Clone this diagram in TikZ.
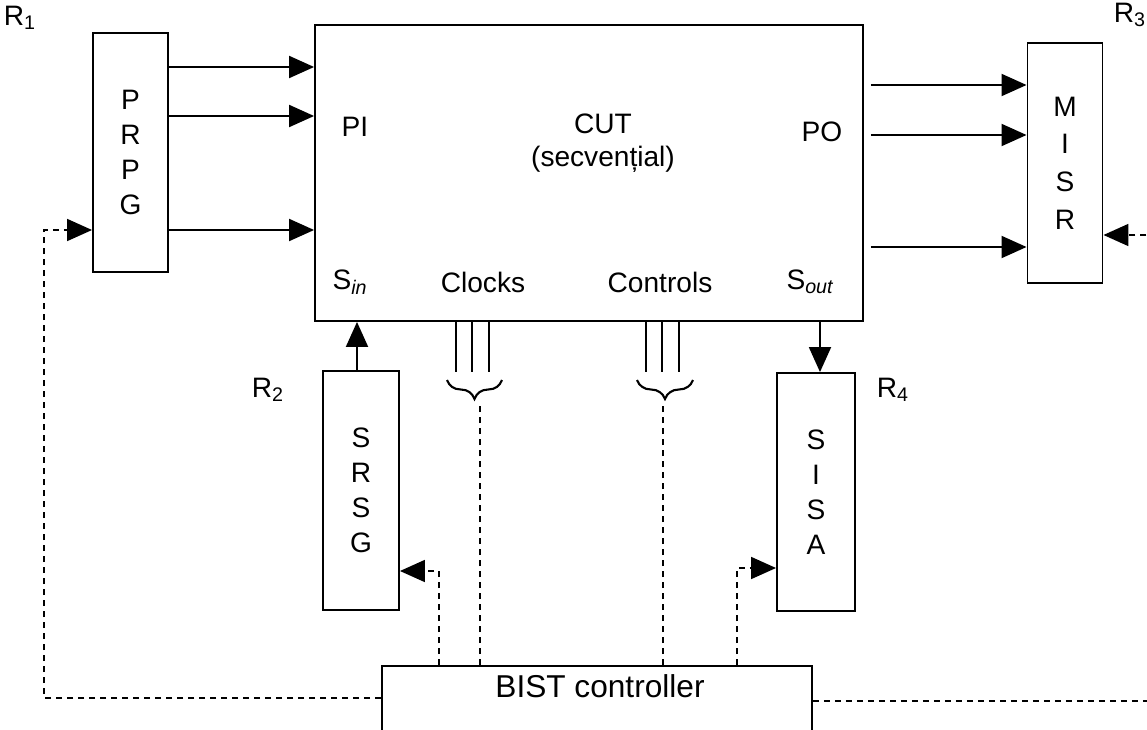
\documentclass[tikz,border=0pt]{standalone}
\usepackage{fontspec}
\setmainfont{Liberation Sans}
\usetikzlibrary{arrows.meta,decorations.pathreplacing}
\tikzset{
  blk/.style={draw, line width=1.1pt, minimum width=1.5cm, inner sep=0pt, align=center},
  sig/.style={-{Triangle[length=0.5cm,width=0.44cm]}, line width=1.1pt},
  dsh/.style={line width=1pt, dash pattern=on 0.12cm off 0.1cm},
  ctl/.style={sig, dsh},
  brc/.style={line width=1.2pt, decorate, decoration={brace, mirror, amplitude=0.38cm}}
}
\begin{document}
\begin{tikzpicture}[x=0.02cm, y=-0.02cm, every node/.style={font=\fontsize{16}{20}\selectfont}]
  \useasboundingbox (0,0) rectangle (1147,730);
  \clip (0,0) rectangle (1147,730);

  % blocks
  \node[blk, minimum height=4.78cm] (prpg) at (130.5,152.5) {P\\R\\P\\G};
  \node[blk, minimum width=10.96cm, minimum height=5.92cm] (cut) at (589,173) {};
  \node[blk, minimum height=4.8cm, font=\fontsize{16}{21.5}\selectfont] (misr) at (1065,163) {M\\I\\S\\R};
  \node[blk, minimum width=1.52cm, minimum height=4.78cm] (srsg) at (361,490.5) {S\\R\\S\\G};
  \node[blk, minimum width=1.56cm, minimum height=4.76cm] (sisa) at (816,492) {S\\I\\S\\A};
  \node[blk, minimum width=8.6cm, minimum height=2cm, anchor=north] (bist) at (597,665) {};
  \node[font=\fontsize{18}{20}\selectfont] (bistlbl) at (600,686) {BIST controller};

  % labels
  \node[align=center, font=\fontsize{16}{19}\selectfont] (cutlbl) at (603,143) {CUT\\(secvențial)};
  \node (pi) at (355,127) {PI};
  \node (po) at (822,132) {PO};
  \node (sin) at (350,282) {S\textsubscript{\itshape in}};
  \node (clk) at (483,282) {Clocks};
  \node (ctrl) at (660,282) {Controls};
  \node (sout) at (810,282) {S\textsubscript{\itshape out}};
  \node (r1) at (20,18) {R\textsubscript{1}};
  \node (r2) at (268,390) {R\textsubscript{2}};
  \node (r3) at (1130,15) {R\textsubscript{3}};
  \node (r4) at (893,390) {R\textsubscript{4}};

  % data paths
  \foreach \y in {67,116,230}
    \draw[sig] (prpg.east |- 0,\y) -- (cut.west |- 0,\y);
  \coordinate (cutout) at ([xshift=0.14cm]cut.east);
  \foreach \y in {85,135,247}
    \draw[sig] (cutout |- 0,\y) -- (misr.west |- 0,\y);
  \coordinate (sinp) at ([xshift=-0.08cm]srsg.north);
  \coordinate (soutp) at ([xshift=0.08cm]sisa.north);
  \draw[sig] (sinp) -- (cut.south -| sinp);
  \draw[sig] (cut.south -| soutp) -- (soutp);

  % clocks and controls
  \foreach \x in {456,472,489,646,662,679}
    \draw[line width=1pt] (cut.south -| \x,0) -- (\x,372);
  \draw[brc] (447,380) -- (502,380);
  \draw[brc] (637,380) -- (693,380);
  \coordinate (clkb) at (480,403);
  \coordinate (ctlb) at (663,403);

  % BIST control lines
  \draw[dsh] (bist.north -| clkb) -- (clkb);
  \draw[dsh] (bist.north -| ctlb) -- (ctlb);
  \draw[ctl] (bist.west |- 0,698) -| (44,230) -- (prpg.west |- 0,230);
  \draw[ctl] (bist.east |- 0,701) -| (1170,235) -- (misr.east |- 0,235);
  \draw[ctl] (bist.north -| 439,0) |- (srsg.east |- 0,571);
  \draw[ctl] (bist.north -| 737,0) |- (sisa.west |- 0,568);
\end{tikzpicture}
\end{document}
